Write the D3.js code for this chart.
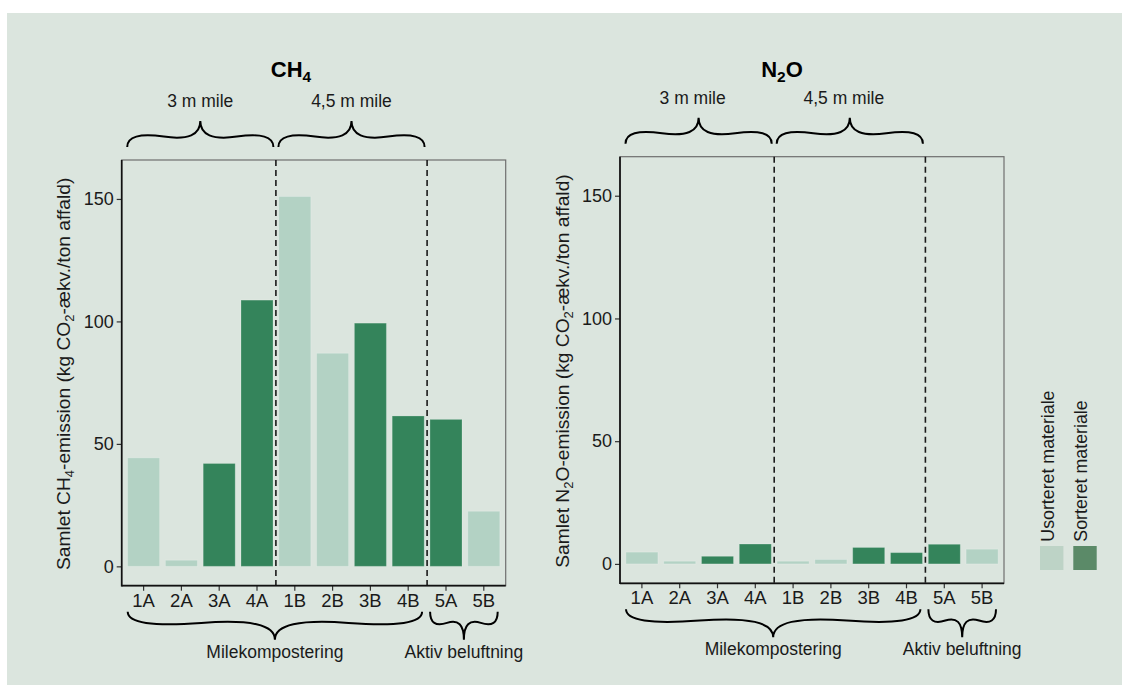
<!DOCTYPE html>
<html>
<head>
<meta charset="utf-8">
<script src="https://cdn.jsdelivr.net/npm/d3@7"></script>
<style>
html,body{margin:0;padding:0;background:#ffffff;}
svg{display:block;font-family:"Liberation Sans",Arial,Helvetica,sans-serif;}
</style>
</head>
<body>
<svg id="chart" width="1129" height="698"></svg>
<script>
// ---------- data ----------
const categories = ["1A","2A","3A","4A","1B","2B","3B","4B","5A","5B"];
const materialType = ["Usorteret","Usorteret","Sorteret","Sorteret","Usorteret","Usorteret","Sorteret","Sorteret","Sorteret","Usorteret"];
const ch4Values = [44.3, 2.5, 42.0, 108.7, 151.0, 87.0, 99.3, 61.4, 60.0, 22.5];
const n2oValues = [4.8, 1.1, 3.1, 8.1, 1.1, 1.8, 6.7, 4.6, 8.0, 6.0];
const yTicks = [0, 50, 100, 150];
const legendKeys = ["Usorteret","Sorteret"];
const legendLabels = ["Usorteret materiale","Sorteret materiale"];
const topGroupLabels = ["3 m mile","4,5 m mile"];
const topGroupRanges = [["1A","4A"],["1B","4B"]];
const bottomGroupLabels = ["Milekompostering","Aktiv beluftning"];
const bottomGroupRanges = [["1A","4B"],["5A","5B"]];
const separators = [["4A","1B"],["4B","5A"]];

// ---------- style ----------
const FONT = '"Liberation Sans",Arial,Helvetica,sans-serif';
const barColor = d3.scaleOrdinal().domain(legendKeys).range(["#b3d2c4","#34845b"]);
const legendColor = d3.scaleOrdinal().domain(legendKeys).range(["#bdd3c6","#5b8a68"]);
const textColor = "#1a1a1a";

const svg = d3.select("#chart");
svg.append("rect").attr("x",7).attr("y",13).attr("width",1115).attr("height",672).attr("fill","#dbe5de");

const panels = [
  {values: ch4Values, gas: [["CH",false],["4",true]], x0:121.7, x1:505.7, y0:160, y1:585.7, titleX:291, titleY:77, yTitleX:69.5, labelShift:0},
  {values: n2oValues, gas: [["N",false],["2",true],["O",false]], x0:620, x1:1004, y0:156.7, y1:583.3, titleX:782, titleY:77, yTitleX:568.5, labelShift:-6}
];

function bracePath(x1,y1,x2,y2,w,q){
  let dx = x1-x2, dy = y1-y2;
  const len = Math.sqrt(dx*dx+dy*dy);
  dx/=len; dy/=len;
  const qx1 = x1 + q*w*dy, qy1 = y1 - q*w*dx;
  const qx2 = (x1 - .25*len*dx) + (1-q)*w*dy, qy2 = (y1 - .25*len*dy) - (1-q)*w*dx;
  const tx1 = (x1 - .5*len*dx) + w*dy, ty1 = (y1 - .5*len*dy) - w*dx;
  const qx3 = x2 + q*w*dy, qy3 = y2 - q*w*dx;
  const qx4 = (x1 - .75*len*dx) + (1-q)*w*dy, qy4 = (y1 - .75*len*dy) - (1-q)*w*dx;
  return `M${x1},${y1} Q${qx1},${qy1} ${qx2},${qy2} T${tx1},${ty1} M${x2},${y2} Q${qx3},${qy3} ${qx4},${qy4} T${tx1},${ty1}`;
}

function addFormula(textSel, parts, subSize){
  let inSub = false;
  parts.forEach(([s,isSub]) => {
    const t = textSel.append("tspan").text(s);
    if(isSub){
      t.attr("font-size",subSize).attr("dy",subSize*0.35);
      inSub = true;
    } else if(inSub){
      t.attr("dy",-subSize*0.35);
      inSub = false;
    }
  });
}

panels.forEach(p => {
  const g = svg.append("g");
  const x = d3.scaleBand().domain(categories).range([p.x0,p.x1]).paddingInner(0.153).paddingOuter(0.156);
  const step = x.step();
  const cx = c => x(c) + x.bandwidth()/2;
  const y = d3.scaleLinear().domain([-7.9,165.9]).range([p.y1,p.y0]);

  // panel border (top/right)
  g.append("rect").attr("x",p.x0).attr("y",p.y0).attr("width",p.x1-p.x0).attr("height",p.y1-p.y0)
    .attr("fill","none").attr("stroke","#6e6e6e").attr("stroke-width",1.2);

  // bars
  g.selectAll("rect.bar").data(categories).join("rect").attr("class","bar")
    .attr("x",d=>x(d)).attr("width",x.bandwidth())
    .attr("y",(d,i)=>y(p.values[i])).attr("height",(d,i)=>y(0)-y(p.values[i]))
    .attr("fill",(d,i)=>barColor(materialType[i]))
    .attr("stroke","rgba(255,255,255,0.22)").attr("stroke-width",1);

  // separators
  g.selectAll("line.sep").data(separators).join("line").attr("class","sep")
    .attr("x1",d=>(cx(d[0])+cx(d[1]))/2).attr("x2",d=>(cx(d[0])+cx(d[1]))/2)
    .attr("y1",p.y0).attr("y2",p.y1)
    .attr("stroke","#1a1a1a").attr("stroke-width",1.6).attr("stroke-dasharray","6,4");

  // y axis
  const yAxis = g.append("g").attr("transform",`translate(${p.x0},0)`)
    .call(d3.axisLeft(y).tickValues(yTicks).tickSize(5).tickPadding(3).tickSizeOuter(0))
    .attr("font-family",FONT);
  yAxis.select(".domain").remove();
  yAxis.selectAll(".tick line").attr("stroke","#333").attr("stroke-width",1.2);
  yAxis.selectAll(".tick text").attr("font-size",18).attr("fill",textColor);

  // x axis
  const xAxis = g.append("g").attr("transform",`translate(0,${p.y1})`)
    .call(d3.axisBottom(x).tickSize(5).tickPadding(3).tickSizeOuter(0))
    .attr("font-family",FONT);
  xAxis.select(".domain").remove();
  xAxis.selectAll(".tick line").attr("stroke","#333").attr("stroke-width",1.2);
  xAxis.selectAll(".tick text").attr("font-size",18.5).attr("fill",textColor);

  // axis lines (left/bottom)
  g.append("line").attr("x1",p.x0).attr("x2",p.x0).attr("y1",p.y0).attr("y2",p.y1+0.8).attr("stroke","#111").attr("stroke-width",1.7);
  g.append("line").attr("x1",p.x0).attr("x2",p.x1).attr("y1",p.y1).attr("y2",p.y1).attr("stroke","#111").attr("stroke-width",1.7);

  // title
  const title = g.append("text").attr("x",p.titleX).attr("y",p.titleY).attr("text-anchor","middle")
    .attr("font-weight","bold").attr("font-size",22).attr("fill","#000");
  addFormula(title, p.gas, 15.5);

  // y title
  const cyMid = (p.y0+p.y1)/2 + 1;
  const yt = g.append("text").attr("transform",`translate(${p.yTitleX},${cyMid}) rotate(-90)`)
    .attr("text-anchor","middle").attr("font-size",19.2).attr("fill",textColor);
  addFormula(yt, [["Samlet ",false]].concat(p.gas).concat([["-emission (kg CO",false],["2",true],["-ækv./ton affald)",false]]), 13);

  // top braces
  topGroupRanges.forEach((r,i) => {
    const a = cx(r[0]) - step/2 + 2.5, b = cx(r[1]) + step/2 - 2.5;
    const base = p.y0 - 13, w = 26;
    g.append("path").attr("d",bracePath(b,base,a,base,w,0.6)).attr("fill","none").attr("stroke","#000").attr("stroke-width",2);
    g.append("text").attr("x",(a+b)/2 + p.labelShift).attr("y",base-w-14).attr("text-anchor","middle")
      .attr("font-size",17.5).attr("fill",textColor).text(topGroupLabels[i]);
  });

  // bottom braces
  bottomGroupRanges.forEach((r,i) => {
    const a = cx(r[0]) - step/2 + 3, b = cx(r[1]) + step/2 - 5;
    const base = p.y1 + 26, w = 28;
    g.append("path").attr("d",bracePath(a,base,b,base,w,0.6)).attr("fill","none").attr("stroke","#000").attr("stroke-width",2);
    g.append("text").attr("x",(a+b)/2).attr("y",base+w+18).attr("text-anchor","middle")
      .attr("font-size",17.5).attr("fill",textColor).text(bottomGroupLabels[i]);
  });
});

// legend
const legX = [1040, 1073.3];
legendKeys.forEach((k,i) => {
  svg.append("rect").attr("x",legX[i]).attr("y",546).attr("width",23.4).attr("height",24).attr("fill",legendColor(k));
  svg.append("text").attr("transform",`translate(${legX[i]+14},541.7) rotate(-90)`)
    .attr("text-anchor","start").attr("font-size",17.8).attr("fill",textColor).text(legendLabels[i]);
});
</script>
</body>
</html>
